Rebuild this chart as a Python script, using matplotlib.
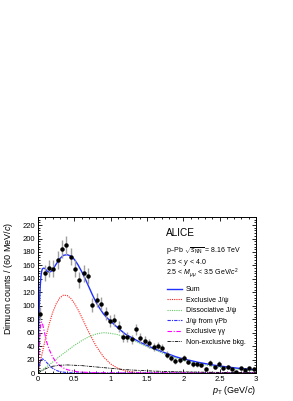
import matplotlib
matplotlib.use("Agg")
import matplotlib.pyplot as plt
from matplotlib.ticker import MultipleLocator

plt.rcParams['font.family'] = ['Liberation Sans', 'DejaVu Sans']
plt.rcParams['mathtext.fontset'] = 'custom'
plt.rcParams['mathtext.rm'] = 'Liberation Sans'
plt.rcParams['mathtext.it'] = 'Liberation Sans:italic'
plt.rcParams['mathtext.bf'] = 'Liberation Sans:bold'

# data points (bin centres, 60 MeV/c bins)
pt = [0.03, 0.09, 0.15, 0.21, 0.27, 0.33, 0.39, 0.45, 0.51, 0.57,
      0.63, 0.69, 0.75, 0.81, 0.87, 0.93, 0.99, 1.05, 1.11, 1.17,
      1.23, 1.29, 1.35, 1.41, 1.47, 1.53, 1.59, 1.65, 1.71, 1.77,
      1.83, 1.89, 1.95, 2.01, 2.07, 2.13, 2.19, 2.25, 2.31, 2.37,
      2.43, 2.49, 2.55, 2.61, 2.67, 2.73, 2.79, 2.85, 2.91, 2.97]
counts = [88, 149, 156, 155, 168, 185, 190, 173, 155, 138,
          148, 144, 101, 109, 103, 89, 77, 79, 69, 54,
          53, 50, 65, 52, 48, 44, 38, 40, 37, 27,
          22, 18, 19, 22, 17, 13, 13, 12, 6, 15,
          9, 14, 8, 9, 6, 1, 7, 4, 7, 6]
errors = [9.5, 12, 12.5, 12.5, 13, 13.5, 14, 13, 12.5, 12,
          12, 12, 10, 10.5, 10, 9.5, 9, 9, 8.5, 7.5,
          7.5, 7, 8, 7, 7, 6.5, 6, 6.5, 6, 5,
          4.7, 4.3, 4.4, 4.7, 4.1, 3.6, 3.6, 3.5, 2.5, 3.9,
          3, 3.7, 2.8, 3, 2.5, 1, 2.6, 2, 2.6, 2.5]

# fit components
sum_x = [0, 0.01, 0.02, 0.03, 0.04, 0.05, 0.06, 0.08, 0.1, 0.12, 0.15, 0.18,
         0.21, 0.25, 0.3, 0.35, 0.4, 0.45, 0.5, 0.55, 0.6, 0.65, 0.7, 0.75,
         0.8, 0.85, 0.9, 0.95, 1.0, 1.1, 1.2, 1.3, 1.4, 1.5, 1.6, 1.7, 1.8,
         1.9, 2.0, 2.2, 2.4, 2.6, 2.8, 3.0]
sum_y = [0, 70, 105, 128, 143, 151, 155, 156, 155, 152, 150, 151,
         155, 162, 170, 175, 176, 174, 169, 161, 151, 140, 128, 116,
         105, 96, 88, 82, 77, 67, 58, 52, 46, 41, 36, 32, 28,
         24, 21, 16, 12, 9, 6.5, 4.8]

excl_x = [0, 0.05, 0.1, 0.15, 0.2, 0.25, 0.3, 0.35, 0.4, 0.45, 0.5, 0.55,
          0.6, 0.7, 0.8, 0.9, 1.0, 1.1, 1.2, 1.3, 1.4, 1.5, 1.7, 2.0, 3.0]
excl_y = [0, 25.6, 49.8, 71.4, 89.4, 102.9, 111.7, 115.7, 115.3, 111.1, 103.8, 94.3,
          83.4, 60.5, 40.0, 24.2, 13.4, 6.9, 3.2, 1.4, 0.6, 0.2, 0.03, 0, 0]

diss_x = [0, 0.1, 0.2, 0.3, 0.4, 0.5, 0.6, 0.7, 0.8, 0.9, 1.0, 1.1, 1.2,
          1.3, 1.4, 1.5, 1.6, 1.7, 1.8, 1.9, 2.0, 2.2, 2.4, 2.6, 2.8, 3.0]
diss_y = [0, 8, 16, 25, 33, 41, 48, 54, 58, 60, 59, 57, 53,
          49, 44, 39, 35, 30, 26, 22, 19, 14, 10, 7, 5, 3.5]

gpb_x = [0, 0.02, 0.04, 0.06, 0.08, 0.1, 0.15, 0.2, 0.25, 0.3, 0.4, 0.5, 3.0]
gpb_y = [0, 12, 19, 21, 20, 18, 12, 7, 4, 2, 0.6, 0.1, 0]

gg_x = [0, 0.01, 0.02, 0.03, 0.04, 0.05, 0.06, 0.08, 0.1, 0.12, 0.15, 0.2,
        0.25, 0.3, 0.35, 0.4, 0.5, 0.6, 0.8, 1.0, 3.0]
gg_y = [0, 20, 45, 65, 74, 76, 74, 65, 55, 46, 36, 24,
        16, 11, 7.5, 5, 2.5, 1.3, 0.4, 0.1, 0]

bkg_x = [0, 0.05, 0.1, 0.15, 0.2, 0.3, 0.4, 0.5, 0.6, 0.7, 0.8, 0.9, 1.0,
         1.2, 1.4, 1.6, 1.8, 2.0, 2.5, 3.0]
bkg_y = [0, 3, 6, 8.5, 10, 11.5, 12, 11.5, 11, 10, 9, 8, 7,
         5, 3.8, 2.8, 2.1, 1.6, 0.9, 0.5]

fig = plt.figure(figsize=(2.93, 4.01), dpi=100)
ax = fig.add_axes([38/293, 28/401, 218/293, 156/401])

ax.plot(excl_x, excl_y, color='#ff2020', ls=(0, (1, 1)), lw=0.8, label='Exclusive J/\u03c8')
ax.plot(diss_x, diss_y, color='#66c866', ls=(0, (1, 1)), lw=0.8, label='Dissociative J/\u03c8')
ax.plot(gpb_x, gpb_y, color='#3030ff', ls=(0, (3, 1, 1, 1)), lw=0.8, label='J/\u03c8 from \u03b3Pb')
ax.plot(gg_x, gg_y, color='#ff00ff', ls=(0, (4, 1.5, 1, 1.5)), lw=0.8, label='Exclusive \u03b3\u03b3')
ax.plot(bkg_x, bkg_y, color='black', ls=(0, (4, 1, 1, 1, 1, 1)), lw=0.6, label='Non-exclusive bkg.')
ax.plot(sum_x, sum_y, color='#2030ff', lw=1.0, label='Sum')

ax.errorbar(pt, counts, yerr=errors, fmt='o', color='black', ms=2.2,
            ecolor='#a0a0a0', elinewidth=1.0, capsize=0, zorder=5)

ax.set_xlim(0, 3)
ax.set_ylim(0, 232)
ax.xaxis.set_major_locator(MultipleLocator(0.5))
ax.xaxis.set_minor_locator(MultipleLocator(0.1))
ax.yaxis.set_major_locator(MultipleLocator(20))
ax.yaxis.set_minor_locator(MultipleLocator(4))
ax.tick_params(which='both', direction='in', top=True, right=True, labelsize=5.5, width=0.6)
ax.tick_params(which='major', length=3)
ax.tick_params(which='minor', length=1.5)
ax.tick_params(axis='y', pad=2)
ax.tick_params(axis='x', pad=2.5)
ax.xaxis.set_major_formatter(plt.FuncFormatter(lambda v, p: '%g' % v))
for s in ax.spines.values():
    s.set_linewidth(0.7)

ax.set_ylabel('Dimuon counts / (60 MeV/$c$)', fontsize=6.5, loc='top')
ax.yaxis.set_label_coords(-0.106, 0.965)
ax.set_xlabel('$p_{\\rm T}$ (GeV/$c$)', fontsize=6.5, loc='right')
ax.xaxis.set_label_coords(1.0, -0.072)

ax.text(0.587, 0.897, 'ALICE', transform=ax.transAxes, fontsize=7.2, va='center')
ax.text(0.587, 0.778, 'p\u2013Pb $\\sqrt{s_{\\rm NN}}$ = 8.16 TeV', transform=ax.transAxes, fontsize=5.0, va='center')
ax.text(0.587, 0.710, '2.5 < $y$ < 4.0', transform=ax.transAxes, fontsize=5.0, va='center')
ax.text(0.587, 0.638, '2.5 < $M_{\\mu\\mu}$ < 3.5 GeV/$c^2$', transform=ax.transAxes, fontsize=5.0, va='center')

handles, labels = ax.get_legend_handles_labels()
order = [5, 0, 1, 2, 3, 4]
ax.legend([handles[i] for i in order], [labels[i] for i in order],
          loc='upper left', bbox_to_anchor=(0.592, 0.555), frameon=False,
          fontsize=5, handlelength=2.2, handletextpad=0.5, labelspacing=0.5,
          borderpad=0, borderaxespad=0)

fig.savefig('out.png', dpi=100)
